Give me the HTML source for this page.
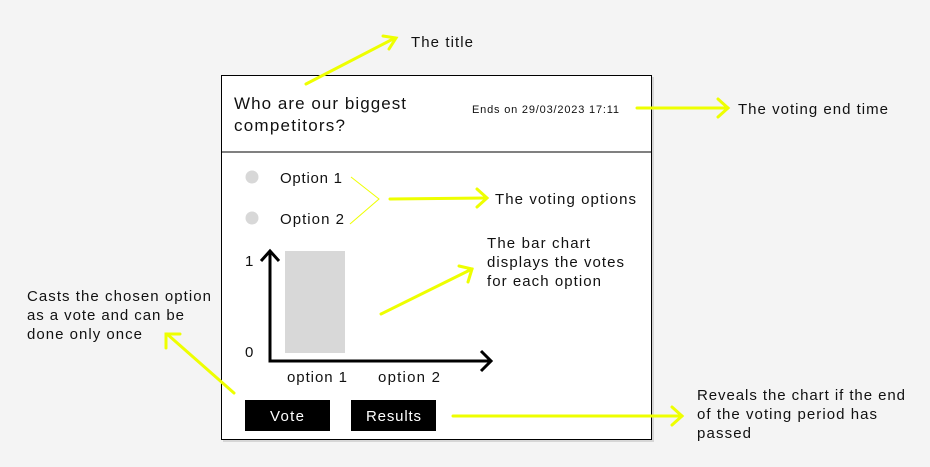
<!DOCTYPE html>
<html><head><style>
body{margin:0;background:#f4f4f4;}
svg{display:block;font-family:"Liberation Sans",sans-serif;}
</style></head><body>
<svg width="930" height="467" viewBox="0 0 930 467">
<rect width="930" height="467" fill="#f4f4f4"/>
<rect x="223" y="77" width="431" height="365" fill="#000" opacity="0.12"/>
<rect x="221.5" y="75.5" width="430" height="364" fill="#fff" stroke="#000" stroke-width="1"/>
<line x1="221" y1="152" x2="652" y2="152" stroke="#000" stroke-width="1"/>
<g fill="#111" font-size="17">
<text x="234" y="109" textLength="172">Who are our biggest</text>
<text x="234" y="131" textLength="111">competitors?</text>
</g>
<text x="472" y="113" font-size="11" fill="#111" textLength="147">Ends on 29/03/2023 17:11</text>
<circle cx="252" cy="177" r="6.5" fill="#d8d8d8"/>
<circle cx="252" cy="218" r="6.5" fill="#d8d8d8"/>
<g font-size="15" fill="#111">
<text x="280" y="183" textLength="62">Option 1</text>
<text x="280" y="224" textLength="64">Option 2</text>
<text x="245" y="266">1</text>
<text x="245" y="357">0</text>
<text x="287" y="382" textLength="60">option 1</text>
<text x="378" y="382" textLength="62">option 2</text>
</g>
<rect x="285" y="251" width="60" height="102" fill="#d8d8d8"/>
<g stroke="#000" stroke-width="3" fill="none">
<polyline points="270,252 270,361 490,361"/>
<polyline points="261,261 270,251 279,261"/>
<polyline points="481,351 491,361 481,371"/>
</g>
<rect x="245" y="400" width="85" height="31" fill="#000"/>
<rect x="351" y="400" width="85" height="31" fill="#000"/>
<g fill="#fff" font-size="15">
<text x="270" y="421" textLength="34">Vote</text>
<text x="366" y="421" textLength="55">Results</text>
</g>
<g stroke="#eeff00" stroke-width="3" fill="none" stroke-linecap="round">
<line x1="306" y1="84" x2="395" y2="38"/><polyline points="383,36 396,38 389,49"/>
<line x1="637" y1="108" x2="728" y2="108"/><polyline points="718,99 728,108 718,117"/>
<line x1="390" y1="199" x2="486" y2="198"/><polyline points="477,189 487,198 477,207"/>
<line x1="381" y1="314" x2="472" y2="269"/><polyline points="459,266 472,269 468,282"/>
<line x1="234" y1="393" x2="167" y2="334"/><polyline points="166,348 166,334 180,334"/>
<line x1="453" y1="416" x2="682" y2="416"/><polyline points="672,407 682,416 672,425"/>
</g>
<polyline points="351,177 379,199 350,224" stroke="#eeff00" stroke-width="1" fill="none"/>
<g font-size="15" fill="#111">
<text x="411" y="47" textLength="62">The title</text>
<text x="738" y="114" textLength="150">The voting end time</text>
<text x="495" y="204" textLength="141">The voting options</text>
<text x="487" y="248" textLength="103">The bar chart</text>
<text x="487" y="267" textLength="137">displays the votes</text>
<text x="487" y="286" textLength="114">for each option</text>
<text x="27" y="301" textLength="184">Casts the chosen option</text>
<text x="27" y="320" textLength="157">as a vote and can be</text>
<text x="27" y="339" textLength="115">done only once</text>
<text x="697" y="400" textLength="208">Reveals the chart if the end</text>
<text x="697" y="419" textLength="180">of the voting period has</text>
<text x="697" y="438" textLength="54">passed</text>
</g>
</svg>
</body></html>
